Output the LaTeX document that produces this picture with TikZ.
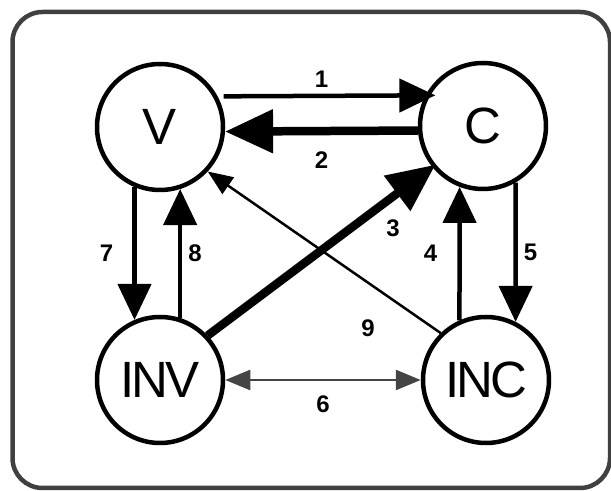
\documentclass[tikz,border=0pt]{standalone}
\usepackage{fontspec}
\setmainfont{Liberation Sans}
\newfontfamily\statefont[LetterSpace=-6]{Liberation Sans}
\usetikzlibrary{arrows.meta}

\definecolor{framegray}{HTML}{404040}
\definecolor{linkgray}{HTML}{444444}

\begin{document}
\begin{tikzpicture}[x=0.5pt, y=-0.5pt,
	state/.style={draw, circle, line width=2.25pt, minimum size=63pt, inner sep=0pt,
		font=\statefont\fontsize{25.5}{25.5}\selectfont},
	flow/.style={line width=2.25pt, -{Triangle[length=18pt, width=16.5pt]}},
	heavy/.style={line width=4.25pt, -{Triangle[length=24pt, width=21pt]}},
	light/.style={line width=1.25pt, -{Triangle[length=12.5pt, width=10pt]}},
	num/.style={font=\bfseries\fontsize{12}{12}\selectfont, inner sep=3pt}]
	\useasboundingbox (0,0) rectangle (611,491);
	\draw[line width=2.25pt, framegray, rounded corners=15pt] (12.5,12) rectangle (610,488);

	\node[state] (V) at (160,127) {V};
	\node[state] (C) at (483,126) {C};
	\node[state] (INV) at (160,380) {INV};
	\node[state] (INC) at (486,380) {INC};

	\draw[flow, shorten <=3pt, shorten >=-5pt] (V.28) -- (C.152) node[num, midway, above] {1};
	\draw[heavy] (C.184) -- (V.-4) node[num, midway, below=5pt] {2};
	\draw[heavy, shorten >=-2pt] (INV.43) -- (C.219) node[num, pos=0.75, below right] {3};
	\draw[flow] (INC.114) -- (C.-111) node[num, midway, left=7pt] {4};
	\draw[flow] (C.-60) -- (INC.63) node[num, midway, right] {5};
	\draw[light, linkgray, {Triangle[length=12.5pt, width=10pt]}-{Triangle[length=12.5pt, width=10pt]}]
		(INV.east) -- (INC.west) node[num, black, midway, below=4pt] {6};
	\draw[flow] (V.-113) -- (INV.113) node[num, midway, left=6.5pt] {7};
	\draw[flow] (INV.72) -- (V.-72) node[num, midway, right] {8};
	\draw[light] (INC.134) -- (V.-43) node[num, pos=0.2, below left=6pt] {9};
\end{tikzpicture}
\end{document}
